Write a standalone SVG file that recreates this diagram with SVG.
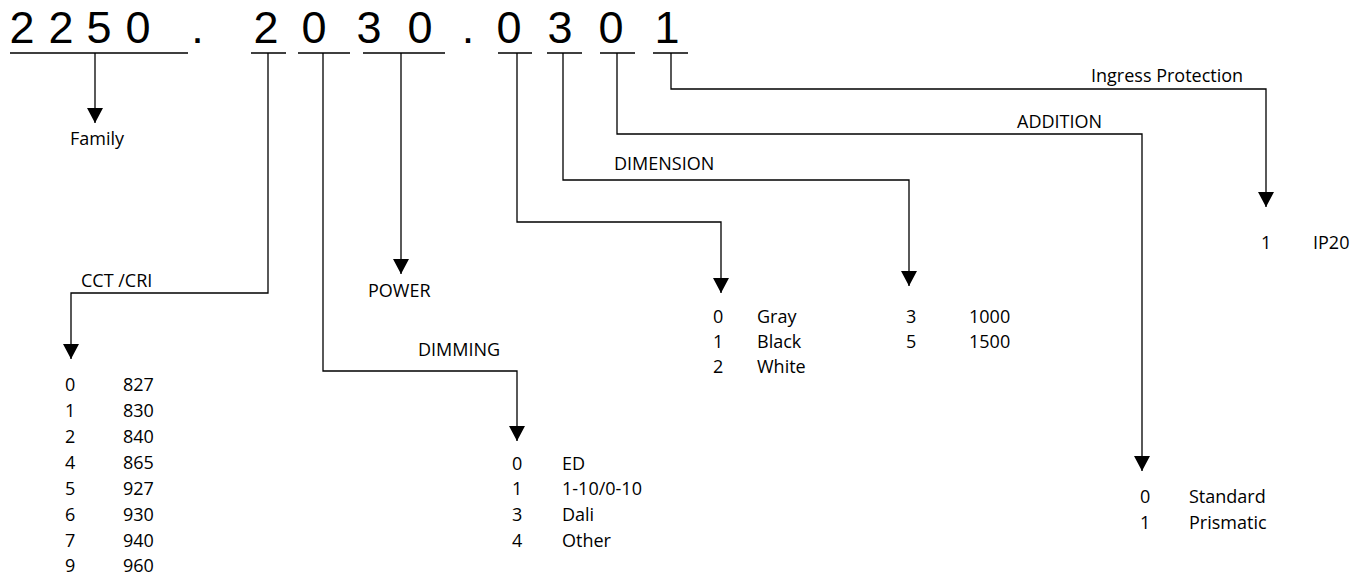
<svg xmlns="http://www.w3.org/2000/svg" width="1368" height="577" viewBox="0 0 1368 577">
<style>
text{font-family:"Open Sans","Noto Sans","Liberation Sans",sans-serif;fill:#000}
.code{font-family:"Liberation Sans","DejaVu Sans",sans-serif;font-size:45px;text-anchor:middle}
.lbl{font-size:18px}
.ul{stroke:#000;stroke-width:1.5;fill:none}
.con{stroke:#000;stroke-width:1.3;fill:none;marker-end:url(#ah)}
</style>
<defs>
<marker id="ah" markerUnits="userSpaceOnUse" viewBox="0 0 15 16" markerWidth="15" markerHeight="16" refX="15" refY="8" orient="auto">
<path d="M0,0 L15,8 L0,16 Z" fill="#000"/>
</marker>
</defs>
<rect width="1368" height="577" fill="#fff"/>
<g id="code">
<text class="code" x="22" y="43">2</text>
<text class="code" x="61" y="43">2</text>
<text class="code" x="99" y="43">5</text>
<text class="code" x="138" y="43">0</text>
<text class="code" x="197.5" y="43">.</text>
<text class="code" x="266" y="43">2</text>
<text class="code" x="314" y="43">0</text>
<text class="code" x="369" y="43">3</text>
<text class="code" x="420" y="43">0</text>
<text class="code" x="468" y="43">.</text>
<text class="code" x="509" y="43">0</text>
<text class="code" x="560" y="43">3</text>
<text class="code" x="611" y="43">0</text>
<text class="code" x="667" y="43">1</text>
<path class="ul" d="M10,53H188 M251,53H286 M298,53H350 M363,53H445 M498,53H532 M547,53H582 M600,53H635 M653,53H688"/>
</g>
<g id="connectors">
<path class="con" d="M95,53V123"/>
<path class="con" d="M268,53V293H71V359"/>
<path class="con" d="M323,53V371H517V441"/>
<path class="con" d="M401,53V274"/>
<path class="con" d="M517,53V222H721V293"/>
<path class="con" d="M563,53V180H909V286"/>
<path class="con" d="M617,53V134H1142V471"/>
<path class="con" d="M671,53V89H1266V207"/>
</g>
<g id="family"><text class="lbl" x="70" y="145">Family</text></g>
<g id="cct">
<text class="lbl" x="81" y="287">CCT /CRI</text>
<text class="lbl" x="65" y="391">0</text><text class="lbl" x="123" y="391">827</text>
<text class="lbl" x="65" y="417">1</text><text class="lbl" x="123" y="417">830</text>
<text class="lbl" x="65" y="443">2</text><text class="lbl" x="123" y="443">840</text>
<text class="lbl" x="65" y="469">4</text><text class="lbl" x="123" y="469">865</text>
<text class="lbl" x="65" y="495">5</text><text class="lbl" x="123" y="495">927</text>
<text class="lbl" x="65" y="521">6</text><text class="lbl" x="123" y="521">930</text>
<text class="lbl" x="65" y="547">7</text><text class="lbl" x="123" y="547">940</text>
<text class="lbl" x="65" y="572">9</text><text class="lbl" x="123" y="572">960</text>
</g>
<g id="power"><text class="lbl" x="368" y="297">POWER</text></g>
<g id="dimming">
<text class="lbl" x="418" y="356">DIMMING</text>
<text class="lbl" x="512" y="470">0</text><text class="lbl" x="562" y="470">ED</text>
<text class="lbl" x="512" y="495">1</text><text class="lbl" x="562" y="495">1-10/0-10</text>
<text class="lbl" x="512" y="521">3</text><text class="lbl" x="562" y="521">Dali</text>
<text class="lbl" x="512" y="547">4</text><text class="lbl" x="562" y="547">Other</text>
</g>
<g id="colour">
<text class="lbl" x="713" y="323">0</text><text class="lbl" x="757" y="323">Gray</text>
<text class="lbl" x="713" y="348">1</text><text class="lbl" x="757" y="348">Black</text>
<text class="lbl" x="713" y="373">2</text><text class="lbl" x="757" y="373">White</text>
</g>
<g id="dimension">
<text class="lbl" x="614" y="170">DIMENSION</text>
<text class="lbl" x="906" y="323">3</text><text class="lbl" x="969" y="323">1000</text>
<text class="lbl" x="906" y="348">5</text><text class="lbl" x="969" y="348">1500</text>
</g>
<g id="addition">
<text class="lbl" x="1017" y="128">ADDITION</text>
<text class="lbl" x="1140" y="503">0</text><text class="lbl" x="1189" y="503">Standard</text>
<text class="lbl" x="1140" y="529">1</text><text class="lbl" x="1189" y="529">Prismatic</text>
</g>
<g id="ingress">
<text class="lbl" x="1091" y="82">Ingress Protection</text>
<text class="lbl" x="1261" y="249">1</text><text class="lbl" x="1313" y="249">IP20</text>
</g>
</svg>
